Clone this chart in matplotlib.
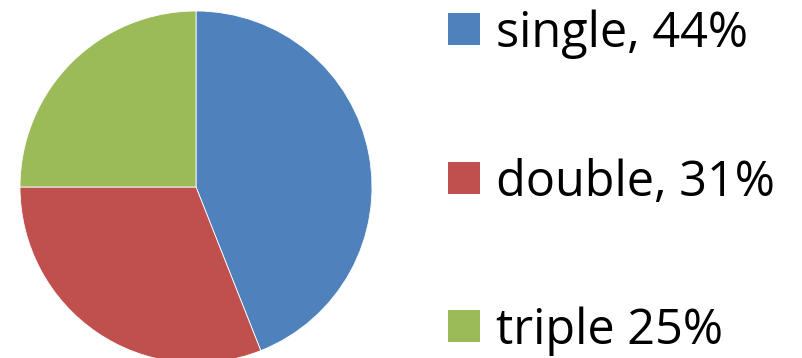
import matplotlib

matplotlib.use("Agg")
import matplotlib.pyplot as plt  # noqa: E402
from matplotlib.patches import Rectangle  # noqa: E402

labels = ["single, 44%", "double, 31%", "triple 25%"]
shares = [44, 31, 25]
colors = ["#4F81BD", "#C0504D", "#9BBB59"]

W, H = 803, 358
fig = plt.figure(figsize=(W / 100, H / 100), dpi=100)

# pie axes: centre (196, 187) px from top-left, radius 176 px
cx, cy, r = 196, 187, 176
ax = fig.add_axes([(cx - r) / W, (H - cy - r) / H, 2 * r / W, 2 * r / H])
ax.pie(shares, colors=colors, startangle=90, counterclock=False, radius=1,
       wedgeprops=dict(edgecolor="white", linewidth=0.6))
ax.set_xlim(-1, 1)
ax.set_ylim(-1, 1)
ax.set_aspect("equal")
ax.axis("off")
for p in ax.patches:
    p.set_clip_on(False)

# legend: square swatches with large labels, baseline near swatch bottom
rows_y = [29, 178, 326]
for lab, col, y in zip(labels, colors, rows_y):
    s = 32
    fig.patches.append(Rectangle((448 / W, (H - y - s / 2) / H), s / W, s / H,
                                 transform=fig.transFigure, facecolor=col,
                                 edgecolor="none"))
    fig.text(496 / W, (H - y - 18) / H, lab, fontsize=35, family="Open Sans",
             va="baseline", ha="left", color="black")

fig.savefig("out.png", dpi=100)
